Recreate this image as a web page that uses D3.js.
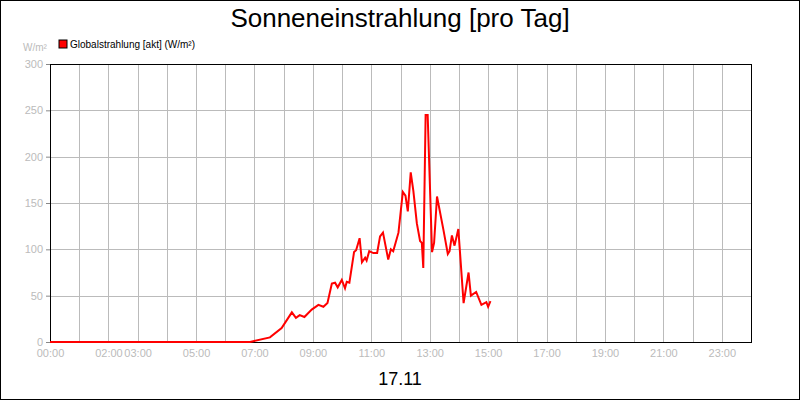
<!DOCTYPE html>
<html><head><meta charset="utf-8">
<script src="https://cdn.jsdelivr.net/npm/d3@7"></script>
<style>body{margin:0;background:#fff}svg{font-family:"Liberation Sans",Arial,sans-serif}</style>
</head><body><svg id="c" width="800" height="400"></svg>
<script>
// hours of day and radiation W/m²
const hours = [0,6.85,7.53,7.93,8.28,8.42,8.55,8.71,8.96,9.19,9.36,9.5,9.65,9.76,9.85,9.99,10.1,10.16,10.25,10.41,10.48,10.6,10.68,10.79,10.84,10.93,11.07,11.2,11.3,11.4,11.58,11.67,11.75,11.93,12.08,12.17,12.25,12.35,12.44,12.56,12.67,12.73,12.78,12.86,12.93,13.08,13.15,13.25,13.47,13.62,13.68,13.76,13.85,13.98,14.16,14.33,14.41,14.59,14.77,14.94,15.0,15.08];
const values = [0,0,5,15,32,26,29,27,35,40,38,42,63,64,59,67,58,65,64,97,99,112,86,91,88,98,96,96,114,118,89,100,98,118,162,158,141,183,163,128,109,107,80,245,245,97,107,157,121,95,98,115,104,122,42,75,50,54,40,43,38,44];
const yTicks = [0,50,100,150,200,250,300];
const xLabels = [0,2,3,5,7,9,11,13,15,17,19,21,23];

const svg = d3.select('#c');
const L = 50, R = 751, T = 64, B = 342;
const x = d3.scaleLinear().domain([0,24]).range([L,R]);
const y = d3.scaleLinear().domain([0,300]).range([B,T]);

svg.append('rect').attr('x',0.5).attr('y',0.5).attr('width',799).attr('height',399)
  .attr('fill','#fff').attr('stroke','#000');

// grid
svg.append('g').selectAll('line').data(d3.range(1,24)).join('line')
  .attr('x1',d=>Math.round(x(d))+0.5).attr('x2',d=>Math.round(x(d))+0.5)
  .attr('y1',T).attr('y2',B).attr('stroke','#bbb');
svg.append('g').selectAll('line').data(yTicks.slice(1,-1)).join('line')
  .attr('x1',L).attr('x2',R).attr('y1',d=>Math.round(y(d))+0.5).attr('y2',d=>Math.round(y(d))+0.5)
  .attr('stroke','#bbb');

// axes
const yAxis = svg.append('g').attr('transform',`translate(${L},0)`)
  .call(d3.axisLeft(y).tickValues(yTicks).tickSize(4).tickPadding(3));
yAxis.select('.domain').remove();
yAxis.selectAll('line').attr('stroke','#888');
yAxis.selectAll('text').attr('fill','#bbb').style('font-size','11px');

const xAxis = svg.append('g').attr('transform',`translate(0,${B})`)
  .call(d3.axisBottom(x).tickValues(xLabels).tickSize(0).tickPadding(7)
    .tickFormat(d=>String(d).padStart(2,'0')+':00'));
xAxis.select('.domain').remove();
xAxis.selectAll('text').attr('fill','#bbb').style('font-size','11px');

svg.append('rect').attr('x',L+0.5).attr('y',T+0.5).attr('width',R-L).attr('height',B-T)
  .attr('fill','none').attr('stroke','#000');

// data line
svg.append('path').datum(hours.map((h,i)=>[h,values[i]]))
  .attr('fill','none').attr('stroke','#f00').attr('stroke-width',2)
  .attr('d', d3.line().x(d=>x(d[0])).y(d=>y(d[1])));

// texts
svg.append('text').attr('x',400).attr('y',27).attr('text-anchor','middle')
  .style('font-size','26px').text('Sonneneinstrahlung [pro Tag]');
svg.append('text').attr('x',23).attr('y',51).attr('fill','#bbb').style('font-size','10px').text('W/m²');
svg.append('rect').attr('x',59).attr('y',40).attr('width',8).attr('height',8)
  .attr('fill','#f00').attr('stroke','#000');
svg.append('text').attr('x',70).attr('y',48).style('font-size','10px').text('Globalstrahlung [akt] (W/m²)');
svg.append('text').attr('x',400).attr('y',385).attr('text-anchor','middle')
  .style('font-size','18px').text('17.11');
</script></body></html>
